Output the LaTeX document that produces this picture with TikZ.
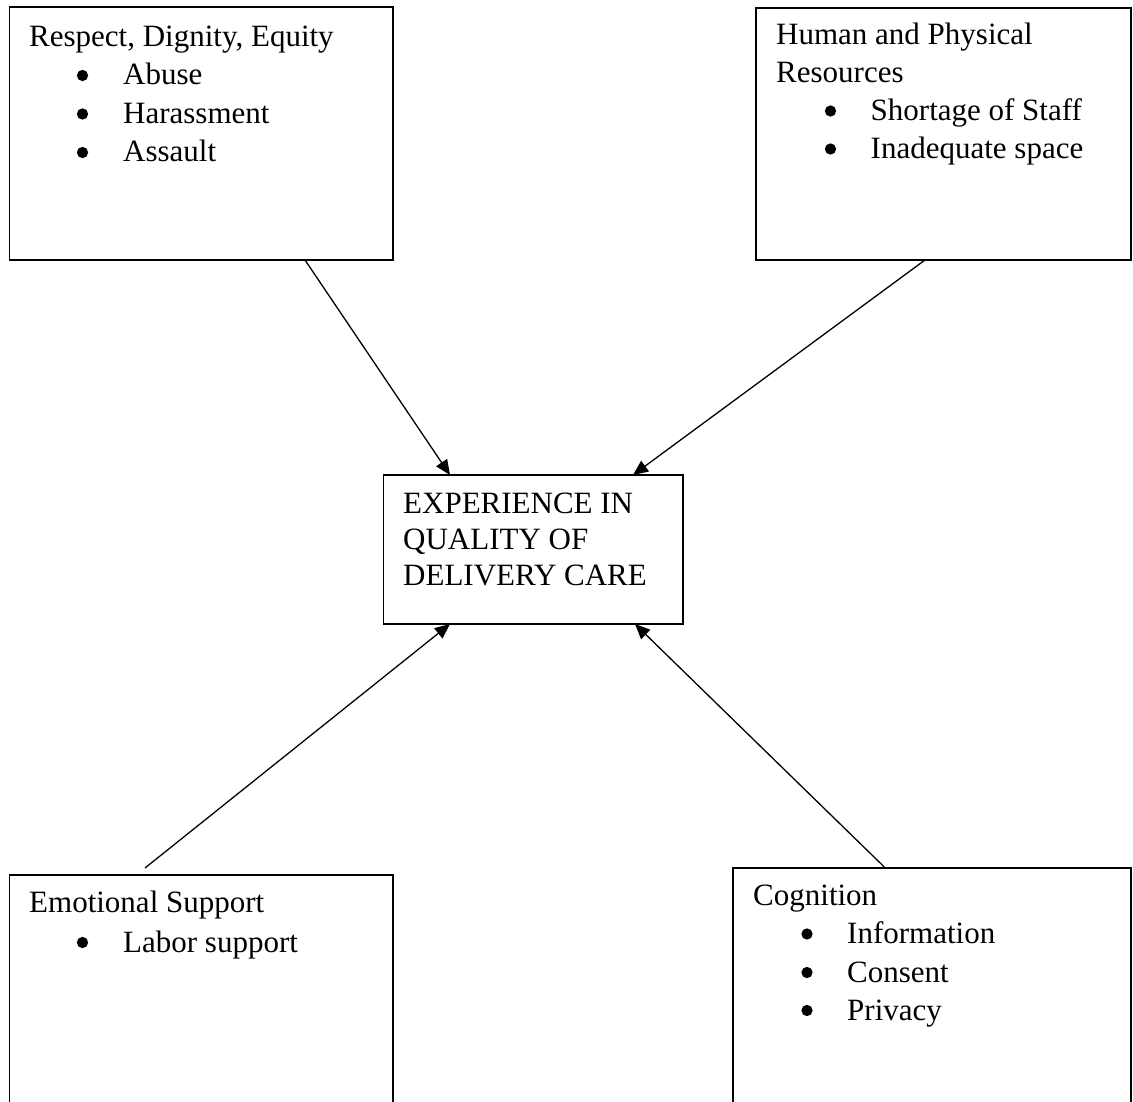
\documentclass[tikz,border=0pt]{standalone}
\usepackage{fontspec}
\setmainfont{Liberation Serif}
\usetikzlibrary{arrows.meta,calc}
\begin{document}
\begin{tikzpicture}[x=1pt,y=-1pt,
  box/.style={draw,line width=1.6pt,rectangle,inner sep=0pt,outer sep=0pt},
  txt/.style={anchor=base west,inner sep=0pt,font=\fontsize{31}{38.5}\selectfont},
  bul/.style={circle,fill,inner sep=0pt,minimum size=11.3pt},
  conn/.style={line width=1.3pt,-{Triangle[length=15pt,width=13pt]}}]
\useasboundingbox[fill=white] (0,0) rectangle (1133,1102);
% boxes
\node[box,minimum width=383.5pt,minimum height=252.7pt] (tl) at (201.25,133.65) {};
\node[box,minimum width=374.7pt,minimum height=252pt] (tr) at (943.35,134) {};
\node[box,minimum width=299.7pt,minimum height=149pt] (ctr) at (533.15,549.5) {};
\node[box,minimum width=383.7pt,minimum height=235pt] (bl) at (201.15,992.5) {};
\node[box,minimum width=397.7pt,minimum height=242.3pt] (br) at (931.85,988.85) {};
% top-left text
\node[txt] (tl0) at (29,46.7) {Respect, Dignity, Equity};
\node[bul] (tlb1) at (82.5,75.5) {};
\node[txt] (tl1) at (123,85) {Abuse};
\node[bul] (tlb2) at (82.5,114) {};
\node[txt] (tl2) at (123,123.5) {Harassment};
\node[bul] (tlb3) at (82.5,152.5) {};
\node[txt] (tl3) at (123,162) {Assault};
% top-right text
\node[txt] (tr0) at (776,45) {Human and Physical};
\node[txt] (tr1) at (776,82.5) {Resources};
\node[bul] (trb2) at (830.5,111) {};
\node[txt] (tr2) at (870.5,120.5) {Shortage of Staff};
\node[bul] (trb3) at (830.5,149) {};
\node[txt] (tr3) at (870.5,158.5) {Inadequate space};
% center text
\node[txt] (c0) at (403,513) {EXPERIENCE IN};
\node[txt] (c1) at (403,549.5) {QUALITY OF};
\node[txt] (c2) at (403,585.5) {DELIVERY CARE};
% bottom-left text
\node[txt] (bl0) at (29,912) {Emotional Support};
\node[bul] (blb1) at (82.5,942.5) {};
\node[txt] (bl1) at (123,952) {Labor support};
% bottom-right text
\node[txt] (br0) at (753,905) {Cognition};
\node[bul] (brb1) at (807,934) {};
\node[txt] (br1) at (847,943.5) {Information};
\node[bul] (brb2) at (807,972.5) {};
\node[txt] (br2) at (847,982) {Consent};
\node[bul] (brb3) at (807,1010.5) {};
\node[txt] (br3) at (847,1020) {Privacy};
% connectors
\coordinate (blfree) at (145,868);
\draw[conn] ([xshift=295.5pt]tl.south west) -- ([xshift=66.7pt]ctr.north west);
\draw[conn] ([xshift=169pt]tr.south west) -- ([xshift=249.7pt]ctr.north west);
\draw[conn] (blfree) -- ([xshift=66.7pt]ctr.south west);
\draw[conn] ([xshift=152pt]br.north west) -- ([xshift=251.7pt]ctr.south west);
\end{tikzpicture}
\end{document}
